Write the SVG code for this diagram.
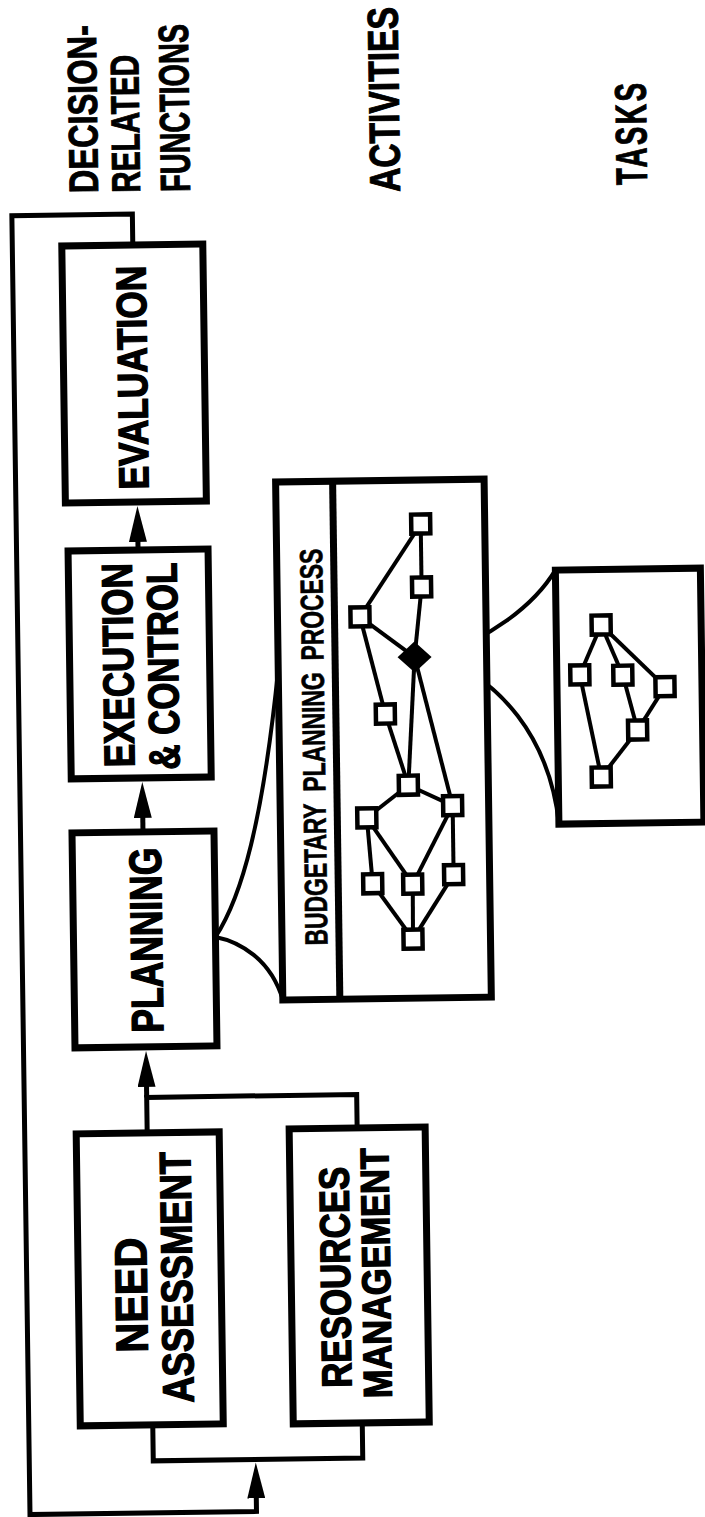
<svg xmlns="http://www.w3.org/2000/svg" width="705" height="1517" viewBox="0 0 705 1517">
<style>
.box{fill:#fff;stroke:#000;stroke-width:7}
.conn{fill:none;stroke:#000;stroke-width:5}
.edge{fill:none;stroke:#000;stroke-width:4}
.curve{fill:none;stroke:#000;stroke-width:4}
.sq{fill:#fff;stroke:#000;stroke-width:4.5}
.lbl{font-family:"Liberation Sans",Arial,sans-serif;font-weight:bold;fill:#000;stroke:#000;stroke-width:1.4;text-anchor:middle}
.hdr{font-family:"Liberation Sans",Arial,sans-serif;font-weight:bold;fill:#000;stroke:#000;stroke-width:1;text-anchor:start}
.sub{font-family:"Liberation Sans",Arial,sans-serif;font-weight:bold;fill:#000;stroke:#000;stroke-width:0.6;text-anchor:middle}
</style>
<defs>
<marker id="arr" viewBox="0 0 36 18" refX="6" refY="9" markerWidth="36" markerHeight="18" markerUnits="userSpaceOnUse" orient="auto">
<path d="M0,0 L36,9 L0,18 Z" fill="#000"/>
</marker>
</defs>
<rect width="705" height="1517" fill="#fff"/>
<g transform="rotate(-0.8 352 760)">
<g id="connectors">
<path class="conn" d="M140,242 V211 H19.5 V1510 H246 V1491" marker-end="url(#arr)"/>
<path class="conn" d="M143.5,1422 V1458 H353 V1423"/>
<path class="conn" d="M142,1130 V1094.5 H352 V1128"/>
<path class="conn" d="M142,1094.5 V1078" marker-end="url(#arr)"/>
<path class="conn" d="M142,829 V809" marker-end="url(#arr)"/>
<path class="conn" d="M141,547 V533" marker-end="url(#arr)"/>
<path class="curve" d="M213,935 C240,895 262,820 279.5,668"/>
<path class="curve" d="M213,935 C237,940 268,958 279.5,999"/>
<path class="curve" d="M438,658 C490,640 535,610 558,573"/>
<path class="curve" d="M438,658 C500,680 550,740 558,827"/>
</g>
<g id="labels">
<text class="hdr" font-size="41" transform="translate(106,189.5) rotate(-90) scale(0.793,1)">DECISION-</text>
<text class="hdr" font-size="40" transform="translate(148,189.5) rotate(-90) scale(0.741,1)">RELATED</text>
<text class="hdr" font-size="42" transform="translate(198,189.5) rotate(-90) scale(0.686,1)">FUNCTIONS</text>
<text class="hdr" font-size="43" transform="translate(408,192.5) rotate(-90) scale(0.782,1)">ACTIVITIES</text>
<text class="hdr" font-size="44" letter-spacing="4" transform="translate(655,189) rotate(-90) scale(0.63,1)">TASKS</text>
</g>
<g id="evaluation">
<rect class="box" x="69" y="242" width="141" height="257"/>
<text class="lbl" font-size="42" transform="translate(152.4,374.6) rotate(-90) scale(0.839,1)">EVALUATION</text>
</g>
<g id="execution">
<rect class="box" x="71" y="547" width="140" height="228"/>
<text class="lbl" font-size="43" transform="translate(134.3,662) rotate(-90) scale(0.813,1)">EXECUTION</text>
<text class="lbl" font-size="43" transform="translate(179.3,663.6) rotate(-90) scale(0.81,1)">&amp; CONTROL</text>
</g>
<g id="planning">
<rect class="box" x="71" y="829" width="142" height="215"/>
<text class="lbl" font-size="45" transform="translate(159.5,937.3) rotate(-90) scale(0.787,1)">PLANNING</text>
</g>
<g id="need-assessment">
<rect class="box" x="71" y="1130" width="143" height="292"/>
<text class="lbl" font-size="45" transform="translate(139.5,1292) rotate(-90) scale(0.92,1)">NEED</text>
<text class="lbl" font-size="44" transform="translate(184.8,1274.8) rotate(-90) scale(0.828,1)">ASSESSMENT</text>
</g>
<g id="resources-management">
<rect class="box" x="284" y="1128" width="136" height="295"/>
<text class="lbl" font-size="42" transform="translate(342.7,1277) rotate(-90) scale(0.831,1)">RESOURCES</text>
<text class="lbl" font-size="40" transform="translate(382.8,1273.5) rotate(-90) scale(0.859,1)">MANAGEMENT</text>
</g>
<g id="budgetary-planning-process">
<rect class="box" x="279.5" y="481" width="208.5" height="518"/>
<line class="box" x1="336.5" y1="481" x2="336.5" y2="999"/>
<text class="sub" font-size="32" word-spacing="8" transform="translate(325,746.5) rotate(-90) scale(0.714,1)">BUDGETARY PLANNING PROCESS</text>
<g id="activity-edges">
<line class="edge" x1="424" y1="525" x2="362" y2="617"/>
<line class="edge" x1="424" y1="525" x2="424" y2="588"/>
<line class="edge" x1="362" y1="617" x2="416" y2="658"/>
<line class="edge" x1="424" y1="588" x2="416" y2="658"/>
<line class="edge" x1="362" y1="617" x2="386" y2="714.5"/>
<line class="edge" x1="386" y1="714.5" x2="408" y2="786"/>
<line class="edge" x1="416" y1="658" x2="408" y2="786"/>
<line class="edge" x1="416" y1="658" x2="452" y2="807"/>
<line class="edge" x1="408" y1="786" x2="366" y2="818"/>
<line class="edge" x1="408" y1="786" x2="452" y2="807"/>
<line class="edge" x1="366" y1="818" x2="371" y2="884"/>
<line class="edge" x1="366" y1="818" x2="411" y2="885"/>
<line class="edge" x1="452" y1="807" x2="411" y2="885"/>
<line class="edge" x1="452" y1="807" x2="452" y2="876"/>
<line class="edge" x1="371" y1="884" x2="410.5" y2="940"/>
<line class="edge" x1="411" y1="885" x2="410.5" y2="940"/>
<line class="edge" x1="452" y1="876" x2="410.5" y2="940"/>
</g>
<rect class="sq" x="414.5" y="515.5" width="19" height="19"/>
<rect class="sq" x="414.5" y="578.5" width="19" height="19"/>
<rect class="sq" x="352.5" y="607.5" width="19" height="19"/>
<rect class="sq" x="376.5" y="705" width="19" height="19"/>
<rect class="sq" x="398.5" y="776.5" width="19" height="19"/>
<rect class="sq" x="442.5" y="797.5" width="19" height="19"/>
<rect class="sq" x="356.5" y="808.5" width="19" height="19"/>
<rect class="sq" x="361.5" y="874.5" width="19" height="19"/>
<rect class="sq" x="401.5" y="875.5" width="19" height="19"/>
<rect class="sq" x="442.5" y="866.5" width="19" height="19"/>
<rect class="sq" x="401" y="930.5" width="19" height="19"/>
<polygon points="416,642.5 433,658 416,673.5 399,658" fill="#000"/>
</g>
<g id="tasks">
<rect class="box" x="558" y="573" width="145" height="254"/>
<line class="edge" x1="603" y1="628.5" x2="581" y2="678"/>
<line class="edge" x1="603" y1="628.5" x2="624" y2="679"/>
<line class="edge" x1="603" y1="628.5" x2="666" y2="691"/>
<line class="edge" x1="581" y1="678" x2="601" y2="780.5"/>
<line class="edge" x1="624" y1="679" x2="638" y2="734"/>
<line class="edge" x1="666" y1="691" x2="638" y2="734"/>
<line class="edge" x1="638" y1="734" x2="601" y2="780.5"/>
<rect class="sq" x="593.5" y="619" width="19" height="19"/>
<rect class="sq" x="571.5" y="668.5" width="19" height="19"/>
<rect class="sq" x="614.5" y="669.5" width="19" height="19"/>
<rect class="sq" x="656.5" y="681.5" width="19" height="19"/>
<rect class="sq" x="628.5" y="724.5" width="19" height="19"/>
<rect class="sq" x="591.5" y="771" width="19" height="19"/>
</g>
</g>
</svg>
